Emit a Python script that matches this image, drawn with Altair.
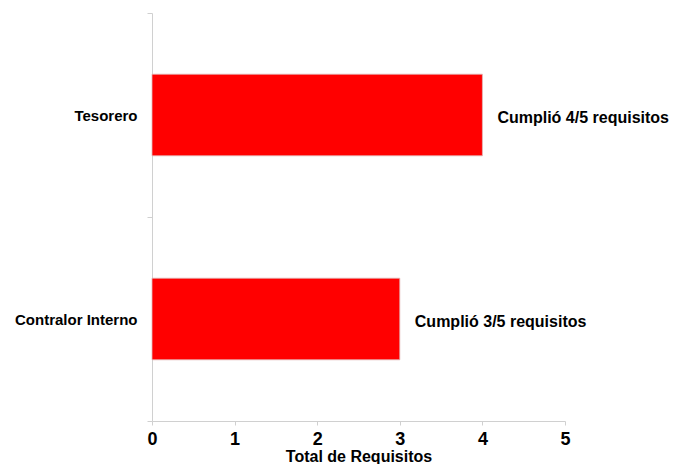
import altair as alt
import pandas as pd

categories = ["Tesorero", "Contralor Interno"]
values = [4, 3]
annotations = ["Cumplió 4/5 requisitos", "Cumplió 3/5 requisitos"]

df = pd.DataFrame({"cat": categories, "val": values, "note": annotations})

FONT = "Liberation Sans"
GREY = "#d0d0d0"

y_enc = alt.Y(
    "cat:N",
    sort=categories,
    title=None,
    scale=alt.Scale(paddingInner=0, paddingOuter=0),
    axis=alt.Axis(
        labelFont=FONT, labelFontSize=15, labelFontWeight="bold", labelColor="#000000",
        labelPadding=10, ticks=True, tickBand="extent", tickSize=5, tickColor=GREY,
        domainColor=GREY, domainWidth=1, grid=False,
    ),
)

x_enc = alt.X(
    "val:Q",
    title="Total de Requisitos",
    scale=alt.Scale(domain=[0, 5], nice=False),
    axis=alt.Axis(
        values=[0, 1, 2, 3, 4, 5], format="d", grid=False, labelFlush=False,
        labelFont=FONT, labelFontSize=18, labelFontWeight="bold", labelColor="#000000",
        labelPadding=5, tickSize=4, tickColor=GREY, domainColor=GREY,
        titleFont=FONT, titleFontSize=16, titleFontWeight="bold", titleColor="#000000",
        titlePadding=0,
    ),
)

base = alt.Chart(df).encode(x=x_enc, y=y_enc)

bars = base.mark_bar(
    color="#ff0000", stroke="#e0b8b8", strokeWidth=0.8, height={"band": 0.4}
)

text = base.mark_text(
    align="left", baseline="middle", dx=15, dy=3,
    font=FONT, fontSize=16, fontWeight="bold", color="#000000",
).encode(text="note:N")

chart = (
    alt.layer(bars, text)
    .properties(
        width=413, height=408,
        autosize=alt.AutoSizeParams(type="none"),
        padding={"left": 144, "top": 5, "right": 108, "bottom": 43},
        view=alt.ViewBackground(stroke="transparent", strokeWidth=0),
    )
    .configure_view(stroke="transparent", strokeWidth=0)
    .configure(background="#ffffff")
)

chart.save("out.html", embed_options={"renderer": "svg", "actions": False})
